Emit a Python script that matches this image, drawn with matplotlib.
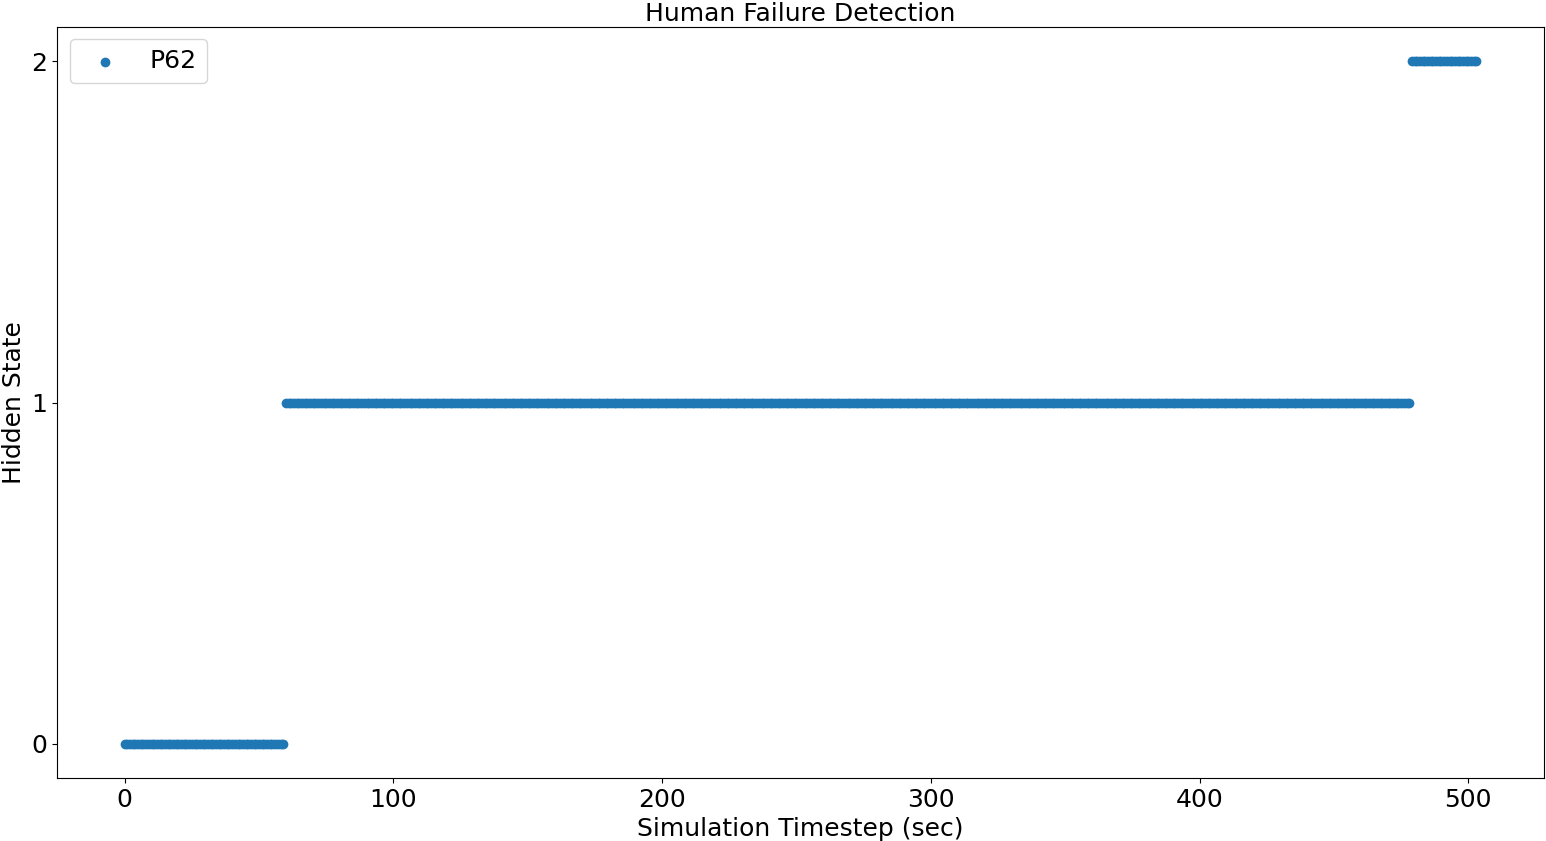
import numpy as np
import matplotlib
matplotlib.use("Agg")
import matplotlib.pyplot as plt

# Data: hidden state segments over simulation time
segment_states = [0, 1, 2]
segment_lengths = [60, 419, 25]   # timesteps 0-59, 60-478, 479-503
timesteps = np.arange(sum(segment_lengths))
hidden_state = np.repeat(segment_states, segment_lengths)

title = "Human Failure Detection"
xlabel = "Simulation Timestep (sec)"
ylabel = "Hidden State"
series_label = "P62"

plt.rcParams['font.size'] = 18
fig = plt.figure(figsize=(15.46, 8.41), dpi=100)
ax = fig.add_axes([0.0369, 0.0749, 0.9618, 0.893])
ax.scatter(timesteps, hidden_state, label=series_label, color='#1f77b4')
ax.set_title(title, fontsize=18, pad=4)
ax.set_xlabel(xlabel)
ax.set_ylabel(ylabel)
ax.set_yticks([0, 1, 2])
ax.legend(loc='upper left')
fig.savefig("out.png", dpi=100)
